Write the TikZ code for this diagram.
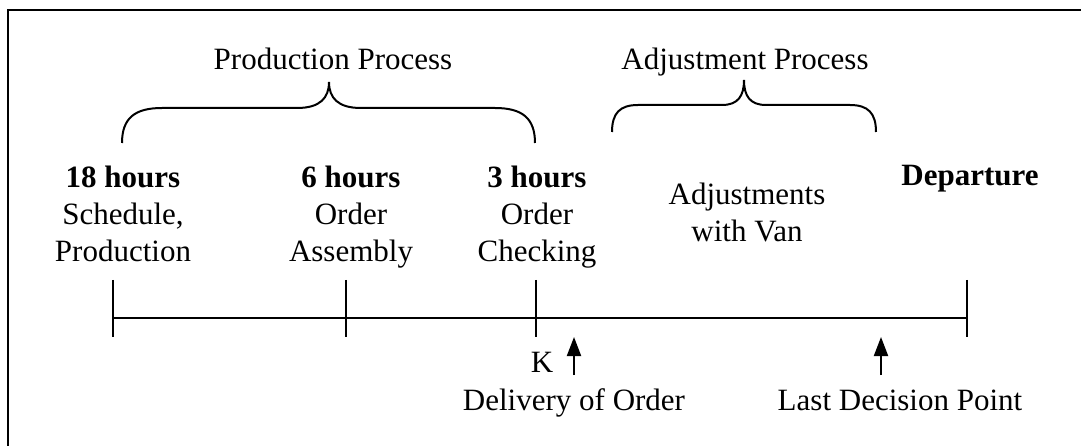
\documentclass[tikz,border=0pt]{standalone}
\usepackage{fontspec}
\setmainfont{Liberation Serif}
\usepackage{tikz}
\usetikzlibrary{positioning}
\usetikzlibrary{arrows.meta}
\tikzset{>=stealth}
\tikzstyle{line} = [draw, line width=0.8pt]
\tikzstyle{pointer} = [draw, line width=0.8pt, -{Triangle[width=5.6pt,length=7.6pt]}]

\begin{document}
\begin{tikzpicture}[x=0.4pt, y=-0.4pt,
      auto,
      lbl/.style={inner sep=0pt,
      align=center,
      anchor=base,
      font=\fontsize{12.4}{14.9}\selectfont},
      brace/.style={draw, line width=0.8pt}]
    \useasboundingbox (0,0) rectangle (1081,446);
    \draw [line width=1pt] (8,446) -- (8,10) -- (1081,10);
    %% Time line
    \coordinate (T18) at (113,318);
    \coordinate (T6) at (346,318);
    \coordinate (T3) at (536,318);
    \coordinate (Tdep) at (967,318);
    \path [line] (T18) -- (Tdep);
    \foreach \t in {T18,T6,T3,Tdep}
      \path [line] (\t) ++(0,-38) -- ++(0,57);
    %% Braces
    \draw [brace] (122,143) .. controls (122,118) and (135,108) .. (162,108) -- (297,108)
      .. controls (320,108) and (329,98) .. (329,82) .. controls (329,98) and (338,108) .. (361,108)
      -- (495,108) .. controls (522,108) and (535,118) .. (535,143);
    \draw [brace] (612,132) .. controls (612,113) and (620,105) .. (638,105) -- (722,105)
      .. controls (738,105) and (744,96) .. (744,80) .. controls (744,96) and (750,105) .. (766,105)
      -- (850,105) .. controls (868,105) and (876,113) .. (876,132);
    \node [lbl] (prod) at (333,70) {Production Process};
    \node [lbl] (adj) at (745,70) {Adjustment Process};
    %% Stages
    \node [lbl] (h18) at (123,262) {\textbf{18 hours}\\Schedule,\\Production};
    \node [lbl] (h6) at (351,262) {\textbf{6 hours}\\Order\\Assembly};
    \node [lbl] (h3) at (537,262) {\textbf{3 hours}\\Order\\Checking};
    \node [lbl] (van) at (747,242) {Adjustments\\with Van};
    \node [lbl] (dep) at (970,186) {\textbf{Departure}};
    %% Points below the line
    \node [lbl] (K) at (542,373) {K};
    \node [lbl] (deliv) at (574,410) {Delivery of Order};
    \node [lbl] (last) at (900,410) {Last Decision Point};
    \coordinate (kfoot) at (574,375);
    \coordinate (ktip) at (574,337);
    \coordinate (lfoot) at (881,375);
    \coordinate (ltip) at (881,337);
    \path [pointer] (kfoot) -- (ktip);
    \path [pointer] (lfoot) -- (ltip);
  \end{tikzpicture}
\end{document}
